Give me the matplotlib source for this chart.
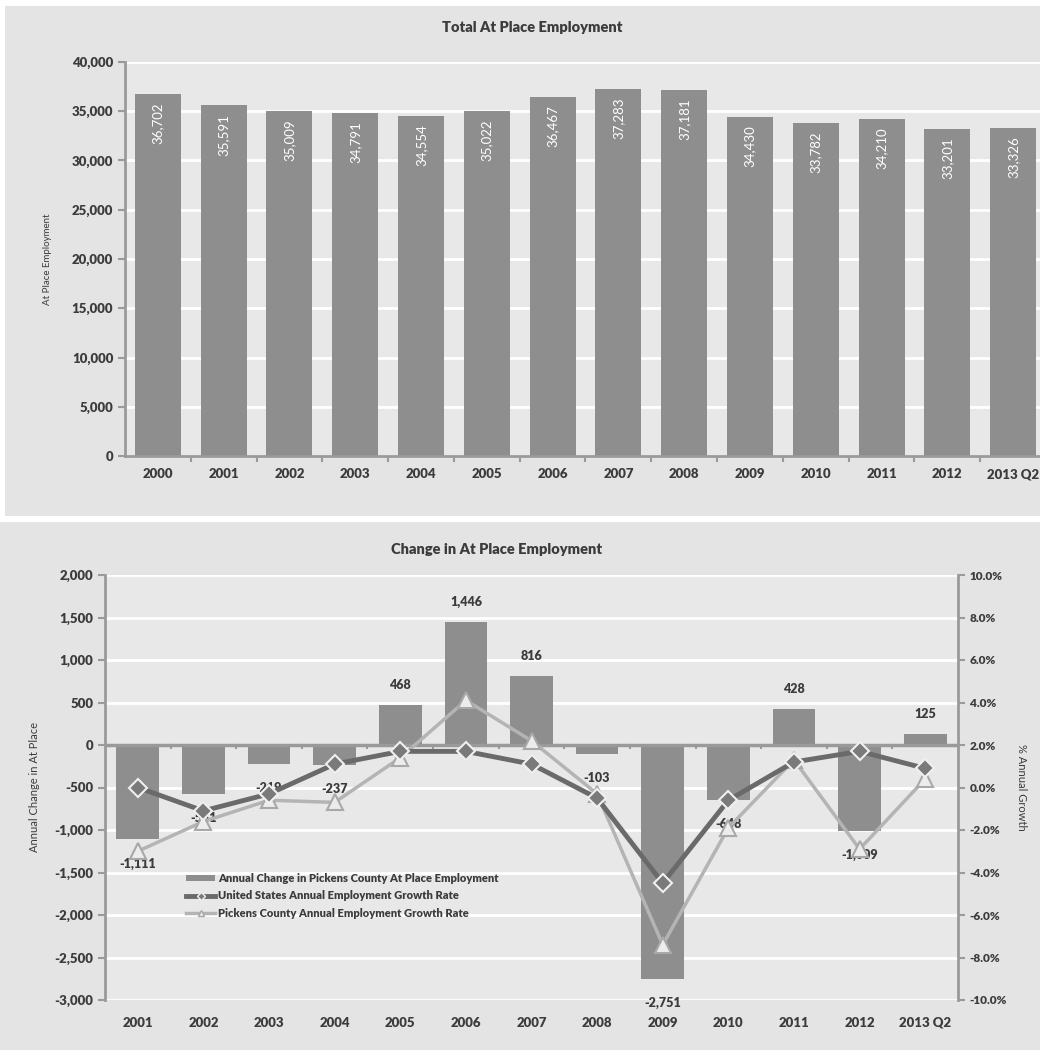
"""Pickens County at-place employment: totals and annual change."""
import matplotlib
matplotlib.use("Agg")
import matplotlib.pyplot as plt
from matplotlib.patches import Rectangle, Patch
from matplotlib.lines import Line2D
from matplotlib.ticker import FuncFormatter, MultipleLocator

plt.rcParams["font.family"] = ["Lato", "DejaVu Sans"]
plt.rcParams["font.weight"] = "heavy"

# top chart data
years_total = ["2000", "2001", "2002", "2003", "2004", "2005", "2006", "2007",
               "2008", "2009", "2010", "2011", "2012", "2013 Q2"]
total_emp = [36702, 35591, 35009, 34791, 34554, 35022, 36467, 37283,
             37181, 34430, 33782, 34210, 33201, 33326]

# bottom chart data
years_change = ["2001", "2002", "2003", "2004", "2005", "2006", "2007",
                "2008", "2009", "2010", "2011", "2012", "2013 Q2"]
annual_change = [-1111, -581, -219, -237, 468, 1446, 816,
                 -103, -2751, -648, 428, -1009, 125]
us_growth = [0.0, -1.1, -0.3, 1.1, 1.7, 1.7, 1.1, -0.5, -4.5, -0.6, 1.2, 1.7, 0.9]
pickens_growth = [-3.0, -1.6, -0.6, -0.7, 1.4, 4.1, 2.2, -0.3, -7.4, -1.9, 1.3, -2.9, 0.4]

TEXT = "#3c3c3c"
BAR = "#8e8e8e"
AXIS = "#9a9a9a"
PANEL = "#e4e4e4"
PLOTBG = "#e8e8e8"

W, H = 1040, 1050
fig = plt.figure(figsize=(W / 100, H / 100), dpi=100)
fig.patch.set_facecolor("white")


def px(x0, y0, x1, y1):
    """Pixel box (top-left origin) -> figure fraction rect."""
    return [x0 / W, 1 - y1 / H, (x1 - x0) / W, (y1 - y0) / H]


# panel backgrounds
for box in [(5, 6, 1040, 516), (0, 522, 1040, 1050)]:
    r = px(*box)
    fig.patches.append(Rectangle((r[0], r[1]), r[2], r[3], transform=fig.transFigure,
                                 facecolor=PANEL, edgecolor="none", zorder=-10))


def style_axes(ax):
    ax.set_facecolor(PLOTBG)
    for s in ["top", "right"]:
        ax.spines[s].set_visible(False)
    ax.spines["left"].set_color(AXIS)
    ax.spines["left"].set_linewidth(2)
    ax.grid(axis="y", color="white", linewidth=2)
    ax.set_axisbelow(True)
    ax.tick_params(axis="y", colors=AXIS, labelcolor=TEXT, labelsize=9.5,
                   length=5, width=1.5)
    ax.tick_params(axis="x", which="major", length=0, labelcolor=TEXT, labelsize=9.5)
    ax.tick_params(axis="x", which="minor", length=4, width=1.5, color=AXIS)


# ---- top chart ----
ax1 = fig.add_axes(px(125, 62, 1046, 456))
style_axes(ax1)
x1 = list(range(len(years_total)))
ax1.bar(x1, total_emp, width=0.7, color=BAR, zorder=2)
ax1.set_xlim(-0.5, len(years_total) - 0.5)
ax1.set_ylim(0, 40000)
ax1.yaxis.set_major_locator(MultipleLocator(5000))
ax1.yaxis.set_major_formatter(FuncFormatter(lambda v, p: f"{v:,.0f}"))
ax1.set_xticks(x1)
ax1.set_xticklabels(years_total)
ax1.set_xticks([i + 0.5 for i in x1[:-1]], minor=True)
ax1.spines["bottom"].set_color(AXIS)
ax1.spines["bottom"].set_linewidth(2)
ax1.tick_params(axis="x", pad=9)
for xi, v in zip(x1, total_emp):
    ax1.annotate(f"{v:,}", (xi, v), xytext=(0, -6), textcoords="offset points",
                 rotation=90, ha="center", va="top", color="white",
                 fontsize=9.5, fontweight="normal")
ax1.set_ylabel("At Place Employment", fontsize=7, color=TEXT, labelpad=14)
fig.text(532 / W, 1 - 28 / H, "Total At Place Employment", ha="center", va="center",
         fontsize=10.5, color=TEXT)

# ---- bottom chart ----
ax2 = fig.add_axes(px(105, 575, 958, 1000))
style_axes(ax2)
x2 = list(range(len(years_change)))
ax2.bar(x2, annual_change, width=0.65, color=BAR, zorder=2)
ax2.set_xlim(-0.5, len(years_change) - 0.5)
ax2.set_ylim(-3000, 2000)
ax2.yaxis.set_major_locator(MultipleLocator(500))
ax2.yaxis.set_major_formatter(FuncFormatter(lambda v, p: f"{v:,.0f}"))
ax2.set_xticks(x2)
ax2.set_xticklabels(years_change)
ax2.spines["bottom"].set_visible(False)
ax2.axhline(0, color=AXIS, linewidth=2.5, zorder=3)
ax2.tick_params(axis="x", which="minor", length=0)
for xb in [i + 0.5 for i in x2[:-1]]:
    ax2.plot([xb, xb], [0, -40], color=AXIS, linewidth=1.5, zorder=3)
ax2.tick_params(axis="x", pad=12)
for xi, v in zip(x2, annual_change):
    off = 10 if v > 0 else -13
    ax2.annotate(f"{v:,}", (xi, v), xytext=(0, off), textcoords="offset points",
                 ha="center", va="bottom" if v > 0 else "top",
                 color=TEXT, fontsize=9, zorder=6)
ax2.set_ylabel("Annual Change in At Place", fontsize=8, color=TEXT, labelpad=10)

ax3 = ax2.twinx()
ax3.set_ylim(-10, 10)
ax3.yaxis.set_major_locator(MultipleLocator(2))
ax3.yaxis.set_major_formatter(FuncFormatter(lambda v, p: f"{v:.1f}%"))
for s in ["top", "left", "bottom"]:
    ax3.spines[s].set_visible(False)
ax3.spines["right"].set_color(AXIS)
ax3.spines["right"].set_linewidth(2)
ax3.tick_params(axis="y", colors=AXIS, labelcolor=TEXT, labelsize=8.5, length=5, width=1.5)
ax3.plot(x2, pickens_growth, color="#b4b4b4", linewidth=2.5, marker="^",
         markersize=11, markerfacecolor="#ececec", markeredgecolor="#a8a8a8",
         markeredgewidth=1.5, zorder=4)
ax3.plot(x2, us_growth, color="#6a6a6a", linewidth=3.5, marker="D",
         markersize=9, markerfacecolor="#7a7a7a", markeredgecolor="#f0f0f0",
         markeredgewidth=1.5, zorder=5)
ax3.set_ylabel("% Annual Growth", fontsize=8, color=TEXT, rotation=270, labelpad=14)

handles = [
    Patch(facecolor=BAR, edgecolor="none"),
    Line2D([], [], color="#6a6a6a", linewidth=3.5, marker="D", markersize=4,
           markerfacecolor="#7a7a7a", markeredgecolor="#f0f0f0"),
    Line2D([], [], color="#b4b4b4", linewidth=2.5, marker="^", markersize=4,
           markerfacecolor="#ececec", markeredgecolor="#a8a8a8"),
]
labels = ["Annual Change in Pickens County At Place Employment",
          "United States Annual Employment Growth Rate",
          "Pickens County Annual Employment Growth Rate"]
leg = ax3.legend(handles, labels, loc="upper left", bbox_to_anchor=(0.09, 0.31),
                 frameon=False, fontsize=8, handlelength=2.6, handleheight=0.5,
                 handletextpad=0.3, labelspacing=0.6, borderaxespad=0)
for t in leg.get_texts():
    t.set_color(TEXT)

fig.text(497 / W, 1 - 549 / H, "Change in At Place Employment", ha="center",
         va="center", fontsize=10.5, color=TEXT)

fig.savefig("out.png", dpi=100, facecolor=fig.get_facecolor())
